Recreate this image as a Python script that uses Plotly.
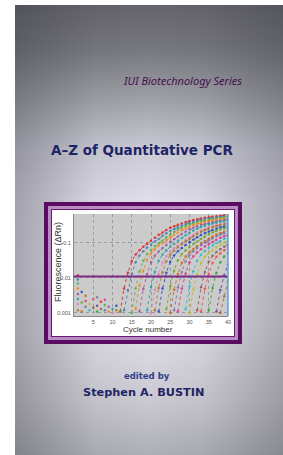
import plotly.graph_objects as go
import math

# ---------------- data ----------------
series_title = "IUI Biotechnology Series"
book_title = "A–Z of Quantitative PCR"
edited_by = "edited by"
author = "Stephen A. BUSTIN"
x_title = "Cycle number"
y_title = "Fluorescence (ΔRn)"

x_ticks = [5, 10, 15, 20, 25, 30, 35, 40]
y_ticks = [0.001, 0.01, 0.1]
y_tick_labels = ["0.001", "0.01", "0.1"]
threshold = 0.011

curve_starts = [12, 13, 15, 16, 17, 19, 20, 21, 22, 24, 25, 26, 27, 29, 30, 32, 33, 35, 37, 38]
curve_values = [
    [0.0011, 0.005, 0.014, 0.03, 0.047, 0.062, 0.078, 0.095, 0.115, 0.14, 0.17, 0.2, 0.235, 0.27, 0.3, 0.33, 0.36, 0.39, 0.42, 0.45, 0.47, 0.5, 0.52, 0.54, 0.56, 0.58, 0.6, 0.62, 0.63],
    [0.0012, 0.0045, 0.013, 0.028, 0.044, 0.058, 0.074, 0.09, 0.11, 0.13, 0.16, 0.19, 0.22, 0.25, 0.28, 0.31, 0.34, 0.37, 0.4, 0.43, 0.45, 0.48, 0.5, 0.52, 0.54, 0.56, 0.57, 0.58],
    [0.001, 0.005, 0.015, 0.031, 0.048, 0.063, 0.08, 0.097, 0.118, 0.145, 0.175, 0.205, 0.24, 0.275, 0.305, 0.335, 0.365, 0.395, 0.42, 0.44, 0.46, 0.48, 0.5, 0.52, 0.53, 0.55],
    [0.0013, 0.006, 0.016, 0.033, 0.05, 0.066, 0.083, 0.1, 0.12, 0.145, 0.17, 0.2, 0.23, 0.26, 0.29, 0.32, 0.35, 0.38, 0.4, 0.42, 0.44, 0.46, 0.48, 0.5, 0.51],
    [0.0011, 0.0048, 0.013, 0.028, 0.043, 0.057, 0.072, 0.088, 0.106, 0.128, 0.152, 0.18, 0.21, 0.24, 0.27, 0.3, 0.33, 0.35, 0.37, 0.39, 0.41, 0.43, 0.45, 0.47],
    [0.0012, 0.0055, 0.015, 0.031, 0.047, 0.062, 0.078, 0.095, 0.115, 0.138, 0.165, 0.195, 0.225, 0.255, 0.285, 0.31, 0.335, 0.36, 0.38, 0.4, 0.42, 0.44],
    [0.001, 0.0045, 0.013, 0.027, 0.042, 0.056, 0.07, 0.085, 0.102, 0.122, 0.145, 0.17, 0.197, 0.225, 0.25, 0.275, 0.3, 0.32, 0.34, 0.36, 0.38],
    [0.0012, 0.0052, 0.0145, 0.03, 0.046, 0.06, 0.075, 0.092, 0.11, 0.13, 0.155, 0.18, 0.205, 0.23, 0.255, 0.28, 0.3, 0.32, 0.34, 0.36],
    [0.0011, 0.005, 0.014, 0.029, 0.044, 0.058, 0.072, 0.087, 0.104, 0.123, 0.145, 0.168, 0.19, 0.213, 0.235, 0.255, 0.275, 0.295, 0.31],
    [0.0013, 0.0058, 0.016, 0.032, 0.048, 0.062, 0.077, 0.093, 0.11, 0.13, 0.152, 0.175, 0.198, 0.22, 0.24, 0.26, 0.28],
    [0.001, 0.0046, 0.013, 0.027, 0.041, 0.054, 0.067, 0.081, 0.096, 0.113, 0.132, 0.152, 0.172, 0.19, 0.208, 0.225],
    [0.0012, 0.0053, 0.0148, 0.03, 0.045, 0.058, 0.072, 0.086, 0.101, 0.118, 0.136, 0.155, 0.173, 0.19, 0.205],
    [0.0011, 0.0049, 0.0135, 0.028, 0.042, 0.054, 0.066, 0.079, 0.093, 0.108, 0.124, 0.14, 0.155, 0.17],
    [0.0013, 0.0057, 0.0155, 0.031, 0.046, 0.059, 0.072, 0.085, 0.099, 0.114, 0.13, 0.145],
    [0.001, 0.0047, 0.013, 0.027, 0.04, 0.052, 0.063, 0.075, 0.088, 0.101, 0.115],
    [0.0012, 0.0054, 0.0148, 0.029, 0.043, 0.055, 0.066, 0.078, 0.09],
    [0.0011, 0.0048, 0.0132, 0.027, 0.04, 0.051, 0.062, 0.072],
    [0.0012, 0.0052, 0.014, 0.028, 0.041, 0.052],
    [0.0011, 0.0045, 0.012, 0.024],
    [0.001, 0.003, 0.008],
]
curve_colors = ["#e41a1c", "#377eb8", "#4daf4a", "#ff7f00", "#984ea3", "#17a2a2",
                "#e377c2", "#a6761d", "#1f3fbf", "#66a61e", "#d95f02", "#7570b3",
                "#e7298a", "#17becf", "#bcbd22", "#8c564b", "#ff4040", "#2ca02c",
                "#6a3d9a", "#b15928"]

noise_x = [1, 1, 1, 1, 1, 1, 1, 1, 2, 2, 2, 3, 3, 4, 4, 5, 5, 6, 6, 7, 7, 8, 8, 9, 9, 10, 10, 11, 11, 12, 3, 6, 8]
noise_y = [0.012, 0.009, 0.007, 0.005, 0.0035, 0.0025, 0.0018, 0.0012, 0.004, 0.002, 0.0011, 0.0015, 0.0022,
           0.0012, 0.0018, 0.0014, 0.0025, 0.0011, 0.0016, 0.0013, 0.0021, 0.0012, 0.0017, 0.0011, 0.0015,
           0.0013, 0.001, 0.0012, 0.0016, 0.0011, 0.0031, 0.0028, 0.0024]

# ---------------- figure ----------------
# Figure is a little larger than the 283x455 window so the cover reaches the edges;
# the decoration axes map 1 unit = 1 screen pixel.
W, H = 300, 470
fig = go.Figure()

def rect(x0, y0, x1, y1, color):
    return go.Scatter(x=[x0, x1, x1, x0, x0], y=[y0, y0, y1, y1, y0], mode="lines",
                      fill="toself", fillcolor=color, line=dict(width=0),
                      hoverinfo="skip", showlegend=False, xaxis="x", yaxis="y")

def px_x(p):
    return p / W

def px_y(p):
    return 1 - p / H

# white page margins (left / top)
fig.add_trace(rect(-10, -10, 15, 480, "#ffffff"))
fig.add_trace(rect(-10, -10, 310, 5, "#ffffff"))

# cover background (vertical gradient)
fig.add_trace(go.Scatter(
    x=[15, 310, 310, 15, 15], y=[5, 5, 480, 480, 5], mode="lines", fill="toself",
    line=dict(width=0), hoverinfo="skip", showlegend=False, xaxis="x", yaxis="y",
    fillgradient=dict(type="vertical", start=5, stop=455, colorscale=[
        [0.0, "#64646a"], [0.1, "#78787f"], [0.21, "#a0a0a8"], [0.32, "#cacad4"],
        [0.43, "#dedde8"], [0.57, "#e6e4ee"], [0.72, "#e0dfe8"], [0.88, "#cac9d1"],
        [1.0, "#aeaeb6"]])))
# edge darkening
fig.add_trace(go.Scatter(
    x=[15, 310, 310, 15, 15], y=[5, 5, 480, 480, 5], mode="lines", fill="toself",
    line=dict(width=0), hoverinfo="skip", showlegend=False, xaxis="x", yaxis="y",
    fillgradient=dict(type="horizontal", start=15, stop=283, colorscale=[
        [0.0, "rgba(50,50,60,0.35)"], [0.3, "rgba(50,50,60,0.05)"], [0.5, "rgba(50,50,60,0)"],
        [0.7, "rgba(50,50,60,0.05)"], [1.0, "rgba(50,50,60,0.3)"]])))

# frame
fig.add_trace(rect(44, 202, 242, 344, "#5a0c60"))
fig.add_trace(rect(48, 206, 238, 340, "#b68ec4"))
fig.add_trace(rect(51, 209, 235, 337, "#6a1a70"))
fig.add_trace(rect(52, 210, 234, 336, "#ffffff"))
fig.add_trace(rect(74, 214, 228, 316, "#cbcbcb"))

# amplification curves
for s, vals, c in zip(curve_starts, curve_values, curve_colors):
    fig.add_trace(go.Scatter(
        x=list(range(s, s + len(vals))), y=vals, mode="lines+markers", opacity=0.85,
        line=dict(color=c, width=1, dash="dot"), marker=dict(color=c, size=2.5),
        showlegend=False, xaxis="x2", yaxis="y2"))

fig.add_trace(go.Scatter(
    x=noise_x, y=noise_y, mode="markers", opacity=0.85,
    marker=dict(color=[curve_colors[i % len(curve_colors)] for i in range(len(noise_x))], size=2.5),
    showlegend=False, xaxis="x2", yaxis="y2"))

fig.update_layout(
    template="none",
    width=W, height=H, margin=dict(l=0, r=0, t=0, b=0, pad=0, autoexpand=False),
    paper_bgcolor="#9c9ca4", plot_bgcolor="rgba(0,0,0,0)",
    xaxis=dict(domain=[0, 1], range=[0, W], visible=False, fixedrange=True, automargin=False),
    yaxis=dict(domain=[0, 1], range=[H, 0], visible=False, fixedrange=True, automargin=False),
    xaxis2=dict(domain=[px_x(74), px_x(228)], range=[0, 40], anchor="y2", automargin=False,
                tickvals=x_ticks, ticktext=[str(t) for t in x_ticks],
                tickfont=dict(size=5.5, color="#555", family="Liberation Sans"),
                showgrid=True, gridcolor="#9a9a9a", griddash="dot", gridwidth=1,
                zeroline=False, showline=True, linecolor="#888", linewidth=1,
                ticks="", ticklabelstandoff=0),
    yaxis2=dict(domain=[px_y(316), px_y(214)], type="log", automargin=False,
                range=[math.log10(0.00082), math.log10(0.67)], anchor="x2",
                tickvals=y_ticks, ticktext=y_tick_labels,
                tickfont=dict(size=5.5, color="#555", family="Liberation Sans"),
                showgrid=True, gridcolor="#9a9a9a", griddash="dot", gridwidth=1,
                zeroline=False, showline=True, linecolor="#888", linewidth=1,
                ticks="", ticklabelstandoff=1),
    shapes=[
        dict(type="line", xref="x2 domain", yref="y2", x0=0, x1=1, y0=threshold, y1=threshold,
             line=dict(color="#7d2a85", width=2), layer="above"),
        dict(type="line", xref="x2 domain", yref="y2 domain", x0=1, x1=1, y0=0, y1=1,
             line=dict(color="#5aa0e0", width=1.5), layer="above"),
    ],
    annotations=[
        dict(text="<i>" + series_title + "</i>", x=182, y=80, xref="x", yref="y", showarrow=False,
             font=dict(family="Noto Sans", size=11, color="#45104f")),
        dict(text="<b>" + book_title + "</b>", x=142, y=150, xref="x", yref="y", showarrow=False,
             font=dict(family="DejaVu Sans", size=13.5, color="#1e2466")),
        dict(text="<b>" + edited_by + "</b>", x=147, y=375.5, xref="x", yref="y", showarrow=False,
             font=dict(family="DejaVu Sans", size=8.5, color="#2e3e8c")),
        dict(text="<b>" + author + "</b>", x=143.5, y=392, xref="x", yref="y", showarrow=False,
             font=dict(family="DejaVu Sans", size=11.3, color="#1e2466")),
        dict(text=x_title, x=148, y=329, xref="x", yref="y", showarrow=False,
             font=dict(family="Liberation Sans", size=8, color="#333")),
        dict(text=y_title, x=58, y=262, xref="x", yref="y", showarrow=False, textangle=-90,
             font=dict(family="Liberation Sans", size=9, color="#333")),
    ],
)

fig.write_html("out.html", config={"displayModeBar": False},
               post_script="document.body.style.margin='0';document.body.style.overflow='hidden';")
